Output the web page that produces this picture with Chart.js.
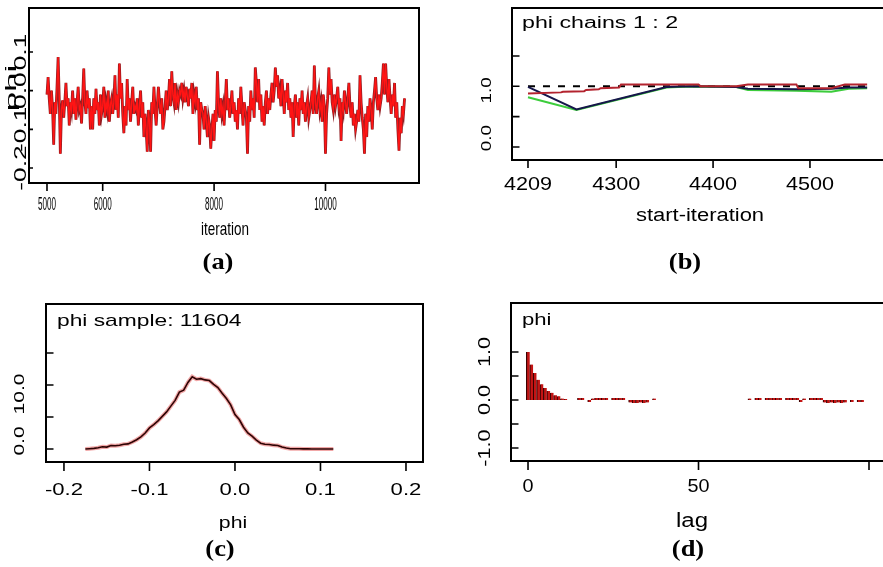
<!DOCTYPE html>
<html>
<head>
<meta charset="utf-8">
<script src="https://cdn.jsdelivr.net/npm/chart.js@4.4.1/dist/chart.umd.min.js"></script>
<style>
  html, body { margin: 0; padding: 0; background: #fff; overflow: hidden; }
  #fig { position: relative; width: 883px; height: 567px; overflow: hidden; }
  canvas { position: absolute; }
  .cap {
    position: absolute;
    font: bold 23px "Liberation Serif", "DejaVu Serif", serif;
    color: #000;
    transform: translate(-50%, -50%) scaleX(1.15);
    white-space: nowrap;
  }
</style>
</head>
<body>
<div id="fig">
  <canvas id="ca" width="441" height="283" style="left:0;top:0"></canvas>
  <canvas id="cb" width="435" height="283" style="left:455px;top:0"></canvas>
  <canvas id="cc" width="441" height="284" style="left:0;top:283px"></canvas>
  <canvas id="cd" width="435" height="284" style="left:455px;top:283px"></canvas>
  <div class="cap" style="left:218px;top:262px">(a)</div>
  <div class="cap" style="left:685px;top:262px">(b)</div>
  <div class="cap" style="left:220px;top:549px">(c)</div>
  <div class="cap" style="left:688px;top:549px">(d)</div>
</div>
<script>
// (a) trace of phi, one value every 20 iterations from 5000
const traceStart = 5000;
const traceStep = 20;
const traceValues = [
  -0.01, 0.035, -0.02, -0.06, 0.00, -0.045, -0.14, -0.03, -0.06, 0.01, 0.087, -0.02, -0.163, -0.05, -0.025, -0.07, -0.03, 0.02, -0.04, -0.02,
  -0.09, -0.03, -0.05, 0.00, -0.06, -0.02, -0.075, -0.03, 0.01, -0.05, -0.04, -0.085, -0.02, 0.057, -0.03, -0.06, 0.00, -0.045, -0.02, -0.1,
  -0.04, -0.1, -0.02, -0.06, 0.005, -0.05, -0.03, -0.09, -0.01, -0.06, -0.04, 0.01, -0.07, -0.03, -0.05, 0.00, -0.08, -0.035, -0.02, -0.06,
  -0.03, 0.04, -0.05, -0.01, -0.07, 0.07, -0.02, 0.02, -0.06, -0.11, -0.04, -0.09, 0.03, -0.05, -0.02, -0.08, -0.03, 0.01, -0.06, -0.04,
  -0.05, -0.02, -0.09, -0.04, 0.00, -0.07, -0.03, -0.12, -0.06, -0.1, -0.158, -0.05, -0.08, -0.158, -0.03, -0.06, 0.01, -0.05, -0.09, -0.04,
  0.01, -0.03, -0.06, -0.02, -0.1, -0.08, -0.04, 0.00, -0.05, -0.02, 0.03, -0.04, 0.05, -0.01, -0.03, 0.02, -0.05, -0.01, -0.03, 0.00,
  -0.01, 0.02, -0.02, 0.00, -0.03, 0.01, -0.015, -0.04, 0.005, -0.02, 0.02, -0.06, -0.01, -0.03, 0.01, -0.05, -0.02, -0.14, -0.03, -0.05,
  -0.06, -0.1, -0.04, -0.08, -0.12, -0.07, -0.09, -0.15, -0.1, -0.06, -0.13, -0.05, -0.08, 0.05, -0.03, -0.07, -0.02, -0.06, -0.04, -0.09,
  -0.03, 0.03, -0.05, -0.02, -0.07, -0.04, 0.00, -0.06, -0.03, -0.08, -0.05, -0.1, -0.02, -0.06, 0.01, -0.04, -0.09, -0.03, -0.05, -0.07,
  -0.163, -0.04, -0.08, 0.00, -0.05, -0.02, -0.07, 0.06, 0.02, -0.03, 0.03, -0.05, -0.01, -0.08, -0.04, -0.09, -0.03, 0.00, -0.06, -0.02,
  -0.05, -0.01, 0.02, -0.03, 0.00, 0.06, 0.01, 0.04, -0.02, 0.00, -0.04, 0.03, -0.01, -0.06, 0.00, -0.03, 0.02, -0.05, -0.02, -0.07,
  -0.03, -0.12, -0.04, -0.01, -0.07, -0.03, -0.09, -0.02, -0.05, 0.00, -0.06, -0.03, -0.08, -0.04, -0.02, -0.07, -0.05, -0.03, 0.00, -0.06,
  0.065, -0.03, -0.06, -0.02, 0.00, -0.05, -0.03, -0.08, -0.01, -0.04, -0.163, -0.06, -0.02, 0.06, -0.01, 0.03, -0.03, -0.05, -0.01, -0.04,
  -0.02, 0.01, -0.04, -0.02, -0.13, -0.03, -0.05, 0.00, -0.03, -0.06, -0.02, 0.02, -0.04, -0.07, -0.03, -0.09, -0.06, -0.1, -0.08, -0.05,
  -0.08, 0.04, -0.03, -0.07, -0.1, -0.163, -0.06, -0.12, -0.04, -0.08, -0.02, -0.05, -0.1, -0.03, 0.00, 0.035, -0.02, -0.05, -0.01, -0.04,
  -0.02, 0.02, 0.07, -0.01, 0.07, 0.01, -0.03, 0.03, -0.02, -0.06, -0.01, -0.04, 0.02, -0.07, -0.03, -0.1, -0.155, -0.07, -0.11, -0.04,
  -0.06, -0.02
];
const traceTicks = [5000, 6000, 8000, 10000];
const traceTickLabels = ['5000', '6000', '8000', '10000'];
const traceYTicks = [-0.2, -0.1, 0.0, 0.1];
const traceYLabels = ['-0.2', '-0.1', '0.0', '0.1'];

// (b) Brooks-Gelman-Rubin, chains 1 : 2
const bgrPooledIter = [4209, 4259, 4352, 4376, 4424, 4436, 4486, 4522, 4540, 4559];
const bgrPooled = [0.82, 0.61, 0.98, 1.0, 0.99, 0.94, 0.93, 0.91, 0.96, 0.97];
const bgrWithinIter = [4209, 4259, 4352, 4376, 4424, 4436, 4486, 4522, 4540, 4559];
const bgrWithin = [0.99, 0.62, 0.99, 1.0, 0.99, 0.96, 0.95, 0.96, 0.98, 0.98];
const bgrRatioIter = [4209, 4243, 4245, 4267, 4269, 4282, 4284, 4303, 4305, 4385, 4387, 4424, 4436, 4486, 4488, 4522, 4536, 4559];
const bgrRatio = [0.88, 0.9, 0.91, 0.92, 0.94, 0.95, 0.97, 0.98, 1.03, 1.03, 1.0, 1.0, 1.03, 1.03, 0.97, 0.97, 1.03, 1.03];
const bgrRefIter = [4209, 4559];
const bgrRef = [1.0, 1.0];
const bgrTicks = [4209, 4300, 4400, 4500];
const bgrTickLabels = ['4209', '4300', '4400', '4500'];
const bgrYTicks = [0, 0.5, 1.0, 1.5];
const bgrYLabels = ['0.0', '', '1.0', ''];

// (c) kernel density of phi
const densPhi = [
  -0.175, -0.17, -0.165, -0.16, -0.155, -0.15, -0.145, -0.14, -0.135, -0.13,
  -0.125, -0.12, -0.115, -0.11, -0.105, -0.1, -0.095, -0.09, -0.085, -0.08,
  -0.075, -0.07, -0.065, -0.06, -0.055, -0.05, -0.045, -0.04, -0.035, -0.03,
  -0.025, -0.02, -0.015, -0.01, -0.005, 0.0, 0.005, 0.01, 0.015, 0.02,
  0.025, 0.03, 0.035, 0.04, 0.045, 0.05, 0.055, 0.06, 0.065, 0.07,
  0.075, 0.08, 0.085, 0.09, 0.095, 0.1, 0.105, 0.11, 0.115
];
const densValues = [
  0.0, 0.05, 0.1, 0.2, 0.35, 0.3, 0.55, 0.5, 0.6, 0.75,
  0.8, 1.1, 1.45, 1.9, 2.5, 3.3, 3.8, 4.4, 5.1, 5.8,
  6.7, 7.6, 8.9, 9.2, 10.4, 11.3, 10.9, 11.0, 10.8, 10.7,
  10.1, 9.6, 8.7, 7.9, 6.9, 5.4, 4.6, 3.4, 2.5, 2.0,
  1.4, 0.9, 0.75, 0.7, 0.6, 0.55, 0.3, 0.15, 0.05, 0.05,
  0.03, 0.02, 0.02, 0.01, 0.01, 0.0, 0.0, 0.0, 0.0
];
const densTicks = [-0.2, -0.1, 0.0, 0.1, 0.2];
const densTickLabels = ['-0.2', '-0.1', '0.0', '0.1', '0.2'];
const densYTicks = [0, 5, 10, 15];
const densYLabels = ['0.0', '', '10.0', ''];

// (d) autocorrelation of phi by lag 0..100
const acfValues = [
  1.0, 0.74, 0.56, 0.42, 0.33, 0.25, 0.19, 0.15, 0.1, 0.08,
  0.03, 0.02, 0, 0, 0, 0.04, 0.04, 0, -0.04, 0.03,
  0.04, 0.04, 0.04, 0.04, 0, 0.04, 0.04, 0.04, 0.04, 0,
  -0.05, -0.06, -0.06, -0.05, -0.06, -0.05, 0, 0.03, 0, 0,
  0, 0, 0, 0, 0, 0, 0, 0, 0, 0,
  0, 0, 0, 0, 0, 0, 0, 0, 0, 0,
  0, 0, 0, 0, 0, 0.03, 0, 0.04, 0.04, 0,
  0.04, 0.04, 0.04, 0.04, 0.04, 0, 0.04, 0.04, 0.04, 0.04,
  -0.04, 0.03, 0, 0.04, 0.04, 0.04, 0.04, -0.05, -0.06, -0.05,
  -0.06, -0.05, -0.06, -0.05, 0, -0.04, 0, -0.04, -0.04, 0,
  0
];
const acfTicks = [0, 50, 100];
const acfTickLabels = ['0', '50', ''];
const acfYTicks = [-1.0, -0.5, 0.0, 0.5, 1.0];
const acfYLabels = ['-1.0', '', '0.0', '', '1.0'];

function drawText(ctx, str, x, y, font, sx, rot, align) {
  ctx.save();
  ctx.translate(x, y);
  if (rot) ctx.rotate(rot);
  ctx.scale(sx, 1);
  ctx.font = font;
  ctx.fillStyle = '#000';
  ctx.textAlign = align || 'center';
  ctx.textBaseline = 'middle';
  ctx.fillText(str, 0, 0);
  ctx.restore();
}

// R / WinBUGS style frame: box, outward x ticks, inward y ticks, rotated y labels
function rFrame(cfg) {
  return {
    id: 'rFrame',
    afterDatasetsDraw(chart) {
      const ctx = chart.ctx;
      const a = chart.chartArea;
      const xs = chart.scales.x;
      const ys = chart.scales.y;
      ctx.save();
      ctx.strokeStyle = '#000';
      ctx.lineWidth = 1.6;
      ctx.beginPath();
      cfg.xTicks.forEach((v) => {
        const px = xs.getPixelForValue(v);
        ctx.moveTo(px, a.bottom);
        ctx.lineTo(px, a.bottom + cfg.xTickLen);
      });
      cfg.yTicks.forEach((v) => {
        const py = ys.getPixelForValue(v);
        ctx.moveTo(a.left, py);
        ctx.lineTo(a.left + cfg.yTickLen, py);
      });
      ctx.stroke();
      ctx.lineWidth = 2;
      ctx.strokeRect(a.left, a.top, a.right - a.left, a.bottom - a.top);

      cfg.xTicks.forEach((v, i) => {
        drawText(ctx, cfg.xLabels[i], xs.getPixelForValue(v), a.bottom + cfg.xLabelDy, cfg.xFont, cfg.xSx, 0, 'center');
      });
      cfg.yTicks.forEach((v, i) => {
        if (!cfg.yLabels[i]) return;
        const shift = cfg.yLabelShift ? cfg.yLabelShift[i] : 0;
        drawText(ctx, cfg.yLabels[i], a.left + cfg.yLabelDx, ys.getPixelForValue(v) + shift, cfg.yFont, cfg.ySx, -Math.PI / 2, 'center');
      });
      if (cfg.yTitle) {
        drawText(ctx, cfg.yTitle, a.left + cfg.yTitleDx, a.top + cfg.yTitleDy, cfg.yTitleFont, cfg.yTitleSx, -Math.PI / 2, 'center');
      }
      drawText(ctx, cfg.xTitle, a.left + cfg.xTitleDx, a.bottom + cfg.xTitleDy, cfg.xTitleFont, cfg.xTitleSx, 0, 'center');
      if (cfg.title) {
        drawText(ctx, cfg.title, a.left + cfg.titleDx, a.top + cfg.titleDy, cfg.titleFont, cfg.titleSx, 0, 'left');
      }
      ctx.restore();
    },
  };
}

const sans = '"Liberation Sans", Arial, sans-serif';

function baseOptions(padding, xmin, xmax, ymin, ymax) {
  return {
    responsive: false,
    animation: false,
    events: [],
    layout: { padding: padding },
    plugins: { legend: { display: false }, tooltip: { enabled: false } },
    scales: {
      x: { type: 'linear', display: false, min: xmin, max: xmax },
      y: { type: 'linear', display: false, min: ymin, max: ymax },
    },
  };
}

const tracePoints = traceValues.map((v, i) => ({ x: traceStart + i * traceStep, y: v }));

new Chart(document.getElementById('ca'), {
  type: 'line',
  data: {
    datasets: [
      { data: tracePoints, borderColor: '#ff1414', borderWidth: 1.4, pointRadius: 0, order: 0 },
      { data: tracePoints, borderColor: '#8e1d22', borderWidth: 2.8, pointRadius: 0, order: 1 },
    ],
  },
  options: baseOptions({ left: 29, top: 8, right: 22, bottom: 100 }, 4677, 11679, -0.2388, 0.2138),
  plugins: [rFrame({
    xTicks: traceTicks, xLabels: traceTickLabels, xTickLen: 8, xLabelDy: 22,
    xFont: '18px ' + sans, xSx: 0.45,
    yTicks: traceYTicks, yLabels: traceYLabels, yTickLen: 4, yLabelDx: -8,
    yFont: '17px ' + sans, ySx: 1.55,
    yTitle: 'phi', yTitleDx: -17, yTitleDy: 80, yTitleFont: '14px ' + sans, yTitleSx: 2.5,
    xTitle: 'iteration', xTitleDx: 196, xTitleDy: 47, xTitleFont: '19px ' + sans, xTitleSx: 0.71,
  })],
});

const xy = (xs, ys) => xs.map((x, i) => ({ x: x, y: ys[i] }));

new Chart(document.getElementById('cb'), {
  type: 'line',
  data: {
    datasets: [
      { data: xy(bgrRatioIter, bgrRatio), borderColor: '#b3232e', borderWidth: 2, pointRadius: 0, order: 0 },
      { data: xy(bgrWithinIter, bgrWithin), borderColor: '#16164a', borderWidth: 2, pointRadius: 0, order: 1 },
      { data: xy(bgrPooledIter, bgrPooled), borderColor: '#3ccc3c', borderWidth: 2.2, pointRadius: 0, order: 2 },
      { data: xy(bgrRefIter, bgrRef), borderColor: '#000', borderWidth: 2, borderDash: [7, 8], pointRadius: 0, order: 3 },
    ],
  },
  options: baseOptions({ left: 57, top: 8, right: 6, bottom: 123 }, 4192.5, 4576.4, -0.214, 2.29),
  plugins: [rFrame({
    xTicks: bgrTicks, xLabels: bgrTickLabels, xTickLen: 8, xLabelDy: 25,
    xFont: '18px ' + sans, xSx: 1.2,
    yTicks: bgrYTicks, yLabels: bgrYLabels, yLabelShift: [-9, 0, 4, 0], yTickLen: 7.5, yLabelDx: -25,
    yFont: '14px ' + sans, ySx: 1.35,
    xTitle: 'start-iteration', xTitleDx: 188, xTitleDy: 56, xTitleFont: '18px ' + sans, xTitleSx: 1.22,
    title: 'phi chains 1 : 2', titleDx: 10, titleDy: 16, titleFont: '16px ' + sans, titleSx: 1.45,
  })],
});

const densPoints = xy(densPhi, densValues);

new Chart(document.getElementById('cc'), {
  type: 'line',
  data: {
    datasets: [
      { data: densPoints, borderColor: '#2e0404', borderWidth: 1.6, pointRadius: 0, order: 0 },
      { data: densPoints, borderColor: 'rgba(225,60,60,0.45)', borderWidth: 4, pointRadius: 0, order: 1 },
    ],
  },
  options: baseOptions({ left: 46, top: 21, right: 18, bottom: 105 }, -0.221, 0.2199, -2.03, 22.66),
  plugins: [rFrame({
    xTicks: densTicks, xLabels: densTickLabels, xTickLen: 9, xLabelDy: 28,
    xFont: '17px ' + sans, xSx: 1.3,
    yTicks: densYTicks, yLabels: densYLabels, yLabelShift: [-8, 0, 9, 0], yTickLen: 7.5, yLabelDx: -26,
    yFont: '14px ' + sans, ySx: 1.5,
    xTitle: 'phi', xTitleDx: 187, xTitleDy: 61, xTitleFont: '17px ' + sans, xTitleSx: 1.25,
    title: 'phi sample: 11604', titleDx: 11, titleDy: 17, titleFont: '17px ' + sans, titleSx: 1.34,
  })],
});

new Chart(document.getElementById('cd'), {
  type: 'bar',
  data: {
    datasets: [{
      data: acfValues.map((v, lag) => ({ x: lag, y: v })),
      backgroundColor: '#c41414',
      borderColor: '#3c0000',
      borderWidth: { left: 1.2, right: 0, top: 0, bottom: 0 },
      borderSkipped: false,
      barPercentage: 1,
      categoryPercentage: 1,
    }],
  },
  options: (() => {
    const o = baseOptions({ left: 56, top: 20, right: 6, bottom: 106 }, -4.99, 104.4, -1.27, 2.02);
    o.scales.x.offset = false;
    return o;
  })(),
  plugins: [rFrame({
    xTicks: acfTicks, xLabels: acfTickLabels, xTickLen: 9, xLabelDy: 26,
    xFont: '18px ' + sans, xSx: 1.1,
    yTicks: acfYTicks, yLabels: acfYLabels, yTickLen: 7.5, yLabelDx: -25,
    yFont: '16px ' + sans, ySx: 1.35,
    xTitle: 'lag', xTitleDx: 181, xTitleDy: 60, xTitleFont: '20px ' + sans, xTitleSx: 1.2,
    title: 'phi', titleDx: 11, titleDy: 17, titleFont: '17px ' + sans, titleSx: 1.3,
  })],
});
</script>
</body>
</html>
